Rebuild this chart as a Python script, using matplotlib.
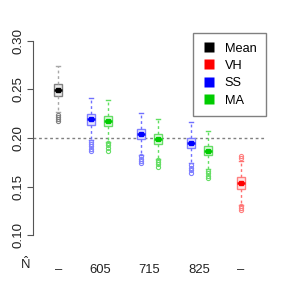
import numpy as np
import matplotlib
matplotlib.use('Agg')
import matplotlib.pyplot as plt
from matplotlib.lines import Line2D

plt.rcParams['font.family'] = ['Liberation Sans', 'DejaVu Sans']
plt.rcParams['mathtext.fontset'] = 'custom'
plt.rcParams['mathtext.rm'] = 'Liberation Sans'

# box order: Mean, SS605, MA605, SS715, MA715, SS825, MA825, VH
box_names = ['Mean', 'SS', 'MA', 'SS', 'MA', 'SS', 'MA', 'VH']
positions = [1, 2, 2.5, 3.5, 4, 5, 5.5, 6.5]
whislo = [0.2272, 0.1981, 0.1964, 0.1826, 0.1789, 0.1741, 0.1679, 0.1314]
q1 = [0.2435, 0.2136, 0.2126, 0.1988, 0.1940, 0.1896, 0.1823, 0.1475]
med = [0.2497, 0.2191, 0.2177, 0.2043, 0.1991, 0.1947, 0.1870, 0.1537]
q3 = [0.2559, 0.2243, 0.2229, 0.2091, 0.2043, 0.2002, 0.1922, 0.1599]
whishi = [0.2738, 0.2409, 0.2386, 0.2254, 0.2192, 0.2167, 0.2077, 0.1768]
outliers = [
    [0.2237, 0.2217, 0.2196, 0.2175],
    [0.1964, 0.1940, 0.1915, 0.1890, 0.1862],
    [0.1950, 0.1925, 0.1900, 0.1867],
    [0.1810, 0.1785, 0.1760, 0.1740],
    [0.1774, 0.1752, 0.1728, 0.1705],
    [0.1720, 0.1695, 0.1668, 0.1640],
    [0.1665, 0.1640, 0.1612, 0.1586],
    [0.1810, 0.1790, 0.1298, 0.1275, 0.1257],
]

xtick_pos = [1, 2.25, 3.75, 5.25, 6.5]
xtick_labels = ['\u2013', '605', '715', '825', '\u2013']
yticks = [0.10, 0.15, 0.20, 0.25, 0.30]
legend_labels = ['Mean', 'VH', 'SS', 'MA']

base = {'Mean': 'black', 'VH': '#ff0000', 'SS': '#0000ff', 'MA': '#00cc00'}
border = {'Mean': '#808080', 'VH': '#ff8080', 'SS': '#8080ff', 'MA': '#66dd66'}
fill = {'Mean': '#ececec', 'VH': '#ffe8e8', 'SS': '#e8e8ff', 'MA': '#e8fae8'}
whisk = {'Mean': '#a8a8a8', 'VH': '#ff7070', 'SS': '#7070ff', 'MA': '#60e060'}

fig = plt.figure(figsize=(2.86, 2.86), dpi=100)
ax = fig.add_axes([33/286, 43/286, 233/286, 210/286])

for i, name in enumerate(box_names):
    st = [{'whislo': whislo[i], 'q1': q1[i], 'med': med[i], 'q3': q3[i],
           'whishi': whishi[i], 'fliers': outliers[i]}]
    ax.bxp(st, positions=[positions[i]], widths=0.24, capwidths=0.12,
           patch_artist=True,
           boxprops=dict(facecolor=fill[name], edgecolor=border[name], linewidth=1),
           medianprops=dict(color=base[name], linewidth=1.8),
           whiskerprops=dict(color=whisk[name], linewidth=1, linestyle=(0, (2, 2))),
           capprops=dict(color=whisk[name], linewidth=1),
           flierprops=dict(marker='o', markersize=3, markerfacecolor='none',
                           markeredgecolor=border[name], markeredgewidth=0.8))
    ax.plot(positions[i], med[i], marker='s', markersize=2.5, color=base[name], zorder=5)

ax.axhline(0.20, color='#808080', linewidth=1, linestyle=(0, (2, 2)), zorder=0)

ax.set_xlim(0.24, 7.26)
ax.set_ylim(0.092, 0.308)
for s in ['top', 'right', 'bottom']:
    ax.spines[s].set_visible(False)
ax.spines['left'].set_bounds(0.10, 0.30)
ax.spines['left'].set_color('#555555')
ax.set_yticks(yticks)
ax.set_yticklabels(['%.2f' % v for v in yticks], rotation=90, va='center',
                   fontsize=9.6, color='#222222')
ax.tick_params(axis='y', length=4.5, color='#555555', pad=1.5)
ax.set_xticks(xtick_pos)
ax.set_xticklabels(xtick_labels, fontsize=9.4, color='#222222')
ax.tick_params(axis='x', length=0, pad=15)

fig.text(25/286, 1 - 264/286, r'$\hat{\mathrm{N}}$', fontsize=9.4,
         ha='center', va='center', color='#222222')

handles = [Line2D([], [], marker='s', linestyle='none', markersize=7,
                  markerfacecolor=base[n], markeredgecolor='none')
           for n in legend_labels]
leg = ax.legend(handles, legend_labels, loc='upper right', borderaxespad=0,
                fontsize=9.2, frameon=True, fancybox=False, framealpha=1,
                edgecolor='#808080', labelspacing=0.42, handletextpad=0.7,
                handlelength=1.0, borderpad=0.75)
leg.get_frame().set_linewidth(1)

fig.savefig('out.png', dpi=100)
